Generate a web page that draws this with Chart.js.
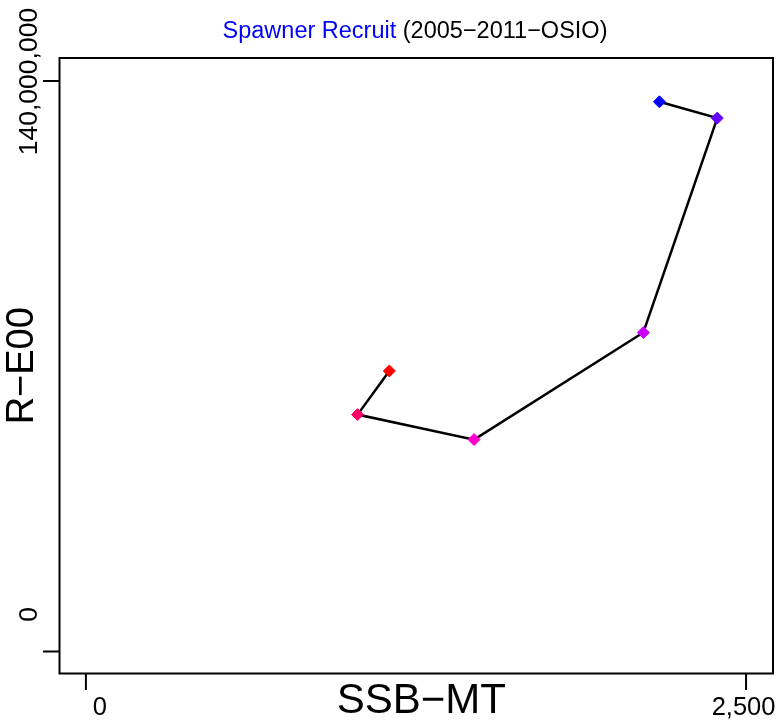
<!DOCTYPE html>
<html>
<head>
<meta charset="utf-8">
<script src="https://cdn.jsdelivr.net/npm/chart.js@4.4.0/dist/chart.umd.min.js"></script>
<style>
  html, body { margin: 0; padding: 0; background: #ffffff; }
  #wrap { width: 783px; height: 726px; }
</style>
</head>
<body>
<div id="wrap"><canvas id="c" width="783" height="726"></canvas></div>
<script>
// ---- data ----
const ssb = [1149, 1029, 1470, 2111, 2391, 2172];
const recruits = [68850000, 58140000, 52000000, 78280000, 130900000, 134900000];
const pointColors = ['#ff0000', '#ff0066', '#ff00cc', '#cc00ff', '#6600ff', '#0000ff'];
const xTickValues = [0, 2500];
const xTickLabels = ['0', '2,500'];
const yTickValues = [0, 140000000];
const yTickLabels = ['0', '140,000,000'];
const titleMain = 'Spawner Recruit';
const titleSub = ' (2005\u22122011\u2212OSIO)';
const xTitle = 'SSB\u2212MT';
const yTitle = 'R\u2212E00';

const FONT = '"Liberation Sans", Arial, Helvetica, sans-serif';

const frame = {
  id: 'frame',
  afterDraw(chart) {
    const ctx = chart.ctx;
    const a = chart.chartArea;
    const xs = chart.scales.x, ys = chart.scales.y;
    ctx.save();
    ctx.strokeStyle = '#000';
    ctx.fillStyle = '#000';
    ctx.lineWidth = 2;
    // box
    ctx.strokeRect(a.left, a.top, a.right - a.left, a.bottom - a.top);
    // y ticks
    yTickValues.forEach((v, i) => {
      const py = ys.getPixelForValue(v);
      ctx.beginPath();
      ctx.moveTo(a.left - 16.5, py);
      ctx.lineTo(a.left, py);
      ctx.stroke();
      const off = i === 0 ? -37 : 0.5;
      ctx.save();
      ctx.translate(37, py + off);
      ctx.rotate(-Math.PI / 2);
      ctx.font = '26.5px ' + FONT;
      ctx.textAlign = 'center';
      ctx.textBaseline = 'alphabetic';
      ctx.fillText(yTickLabels[i], 0, 0);
      ctx.restore();
    });
    // x ticks
    xTickValues.forEach((v, i) => {
      const px = xs.getPixelForValue(v);
      ctx.beginPath();
      ctx.moveTo(px, a.bottom);
      ctx.lineTo(px, a.bottom + 16.5);
      ctx.stroke();
      const off = i === 0 ? 14 : -2.5;
      ctx.font = '25.5px ' + FONT;
      ctx.textAlign = 'center';
      ctx.textBaseline = 'alphabetic';
      ctx.fillText(xTickLabels[i], px + off, 715);
    });
    // axis titles
    ctx.font = '42px ' + FONT;
    ctx.textAlign = 'center';
    ctx.fillText(xTitle, (a.left + a.right) / 2 + 5, 713);
    ctx.save();
    ctx.translate(33, (a.top + a.bottom) / 2);
    ctx.rotate(-Math.PI / 2);
    ctx.font = '38px ' + FONT;
    ctx.textAlign = 'center';
    ctx.fillText(yTitle, 0, 0);
    ctx.restore();
    // title
    ctx.font = '23.5px ' + FONT;
    const w1 = ctx.measureText(titleMain).width;
    const w2 = ctx.measureText(titleSub).width;
    const cx = 415;
    const x0 = cx - (w1 + w2) / 2;
    ctx.textAlign = 'left';
    ctx.fillStyle = '#0000ff';
    ctx.fillText(titleMain, x0, 38);
    ctx.fillStyle = '#000';
    ctx.fillText(titleSub, x0 + w1, 38);
    ctx.restore();
  }
};

new Chart(document.getElementById('c'), {
  type: 'line',
  data: {
    datasets: [{
      data: ssb.map((x, i) => ({ x: x, y: recruits[i] })),
      borderColor: '#000',
      borderWidth: 2.5,
      tension: 0,
      fill: false,
      pointStyle: 'rectRot',
      pointRadius: 6,
      pointHoverRadius: 6,
      pointBackgroundColor: pointColors,
      pointBorderColor: pointColors,
      pointBorderWidth: 1
    }]
  },
  options: {
    responsive: false,
    animation: false,
    events: [],
    layout: { padding: { left: 59.5, top: 58, right: 10, bottom: 52.5 } },
    plugins: { legend: { display: false }, tooltip: { enabled: false }, title: { display: false } },
    scales: {
      x: { type: 'linear', display: false, min: -100, max: 2602 },
      y: { type: 'linear', display: false, min: -5400000, max: 145650000 }
    }
  },
  plugins: [frame]
});
</script>
</body>
</html>
